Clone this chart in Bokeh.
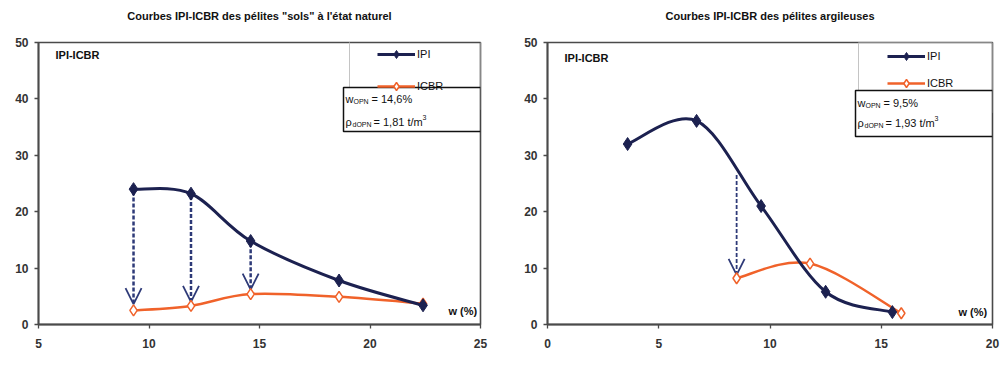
from bokeh.plotting import figure
from bokeh.layouts import row
from bokeh.models import (Range1d, FixedTicker, Legend, LegendItem, BoxAnnotation,
                          Label, Arrow, OpenHead, ColumnDataSource, Title)
from bokeh.embed import file_html
from bokeh.resources import INLINE

# ---------------- data ----------------
y_ticks = [0, 10, 20, 30, 40, 50]

left_title = 'Courbes IPI-ICBR des pélites "sols" à l\'état naturel'
left_x_ticks = [5, 10, 15, 20, 25]
left_ipi_w = [9.3, 11.9, 14.6, 18.6, 22.4]
left_ipi = [24.0, 23.2, 14.8, 7.8, 3.4]
left_icbr_w = [9.3, 11.9, 14.6, 18.6, 22.4]
left_icbr = [2.5, 3.3, 5.4, 4.9, 3.7]
left_arrow_w = [9.3, 11.9, 14.6]
left_arrow_from = [23.6, 22.8, 14.4]
left_arrow_to = [3.6, 4.0, 6.2]
left_w_opn = "14,6%"
left_rho_opn = "1,81"

right_title = "Courbes IPI-ICBR des pélites argileuses"
right_x_ticks = [0, 5, 10, 15, 20]
right_ipi_w = [3.6, 6.7, 9.6, 12.5, 15.5]
right_ipi = [32.0, 36.1, 21.0, 5.8, 2.2]
right_icbr_w = [8.5, 11.8, 15.9]
right_icbr = [8.2, 10.8, 2.0]
right_arrow_w = [8.5]
right_arrow_from = [26.5]
right_arrow_to = [8.8]
right_w_opn = "9,5%"
right_rho_opn = "1,93"

series_names = ["IPI", "ICBR"]

# ---------------- style ----------------
NAVY = "#1c2150"
ORANGE = "#f0622a"
ARROW = "#2e3a78"
FRAME = "#4a4a4a"
FONT = "Liberation Sans"


def smooth(xs, ys):
    """Bezier segments through the data points (Excel-like smoothed line)."""
    n = len(xs)
    d = dict(x0=[], y0=[], x1=[], y1=[], cx0=[], cy0=[], cx1=[], cy1=[])
    for i in range(n - 1):
        xp, yp = (xs[i - 1], ys[i - 1]) if i > 0 else (xs[i], ys[i])
        xn, yn = (xs[i + 2], ys[i + 2]) if i + 2 < n else (xs[i + 1], ys[i + 1])
        d["x0"].append(xs[i]); d["y0"].append(ys[i])
        d["x1"].append(xs[i + 1]); d["y1"].append(ys[i + 1])
        d["cx0"].append(xs[i] + (xs[i + 1] - xp) / 6.0)
        d["cy0"].append(ys[i] + (ys[i + 1] - yp) / 6.0)
        d["cx1"].append(xs[i + 1] - (xn - xs[i]) / 6.0)
        d["cy1"].append(ys[i + 1] - (yn - ys[i]) / 6.0)
    return ColumnDataSource(d)


def make_chart(title, width, b_left, b_right, b_bottom, x_ticks,
               ipi_w, ipi, icbr_w, icbr, aw, a_from, a_to, w_opn, rho_opn,
               leg_x, leg_top_gap, leg_spacing, legbox_left, ann_left, ann_top, ann_bottom,
               ann_line1, ann_line2, wlab_x, wlab_y, arrow_w):
    height = 369
    fh = height - 42 - b_bottom
    fw = width - b_left - b_right
    p = figure(width=width, height=height, output_backend="svg", toolbar_location=None,
               title=None,
               x_range=Range1d(x_ticks[0], x_ticks[-1]), y_range=Range1d(y_ticks[0], y_ticks[-1]),
               min_border_left=b_left, min_border_right=b_right, min_border_top=42,
               min_border_bottom=b_bottom)
    # spacer between frame and title, then the title itself
    p.add_layout(Title(text=" ", text_font_size="11px", standoff=0), "above")
    p.add_layout(Title(text=title, align="center", text_font=FONT, text_font_size="11px",
                       text_font_style="bold", text_color="#111111", standoff=14), "above")
    p.xgrid.visible = False
    p.ygrid.visible = False
    p.outline_line_color = FRAME
    p.outline_line_width = 1.6
    p.background_fill_color = "white"
    p.border_fill_color = "white"
    for ax, ticks in ((p.xaxis[0], x_ticks), (p.yaxis[0], y_ticks)):
        ax.ticker = FixedTicker(ticks=ticks)
        ax.minor_tick_line_color = None
        ax.major_tick_in = 0
        ax.major_tick_out = 4
        ax.major_tick_line_color = FRAME
        ax.major_tick_line_width = 1.3
        ax.axis_line_color = FRAME
        ax.axis_line_width = 1.8
        ax.major_label_text_font = FONT
        ax.major_label_text_font_size = "12px"
        ax.major_label_text_font_style = "bold"
        ax.major_label_text_color = "#333333"
    p.xaxis[0].major_label_standoff = 10
    p.yaxis[0].major_label_standoff = 6

    # arrows IPI -> ICBR
    asrc = ColumnDataSource(dict(x=aw, y0=a_from, y1=a_to))
    p.add_layout(Arrow(end=OpenHead(size=16, line_color=ARROW, line_width=1.8),
                       x_start="x", y_start="y0", x_end="x", y_end="y1", source=asrc,
                       line_color=ARROW, line_width=arrow_w, line_dash="4 2", level="underlay"))

    # ICBR
    icbr_line = p.bezier(x0="x0", y0="y0", x1="x1", y1="y1", cx0="cx0", cy0="cy0",
                         cx1="cx1", cy1="cy1", source=smooth(icbr_w, icbr),
                         line_color=ORANGE, line_width=2.5)
    icbr_pts = p.scatter(icbr_w, icbr, marker="diamond", size=11, fill_color="white",
                         line_color=ORANGE, line_width=1.5)
    # IPI
    ipi_line = p.bezier(x0="x0", y0="y0", x1="x1", y1="y1", cx0="cx0", cy0="cy0",
                        cx1="cx1", cy1="cy1", source=smooth(ipi_w, ipi),
                        line_color=NAVY, line_width=3)
    ipi_pts = p.scatter(ipi_w, ipi, marker="diamond", size=13, fill_color=NAVY,
                        line_color=NAVY, line_width=1)

    # legend frame
    p.add_layout(BoxAnnotation(left=legbox_left, right=fw, top=fh, bottom=fh - 70,
                               left_units="screen", right_units="screen",
                               top_units="screen", bottom_units="screen",
                               line_color="#c4c4c4", line_alpha=1, line_width=1, fill_alpha=0,
                               level="annotation"))
    leg_h = 2 * 20 + leg_spacing
    legend = Legend(items=[LegendItem(label=series_names[0], renderers=[ipi_line, ipi_pts]),
                           LegendItem(label=series_names[1], renderers=[icbr_line, icbr_pts])],
                    location=(leg_x, fh - leg_top_gap - leg_h),
                    orientation="vertical", padding=0, margin=0, spacing=leg_spacing,
                    glyph_width=38, glyph_height=20, label_height=20, label_standoff=2,
                    label_text_font=FONT, label_text_font_size="11px", label_text_color="#111111",
                    border_line_color=None, background_fill_alpha=0)
    p.add_layout(legend)

    # OPN box
    p.add_layout(BoxAnnotation(left=ann_left, right=fw, top=ann_top, bottom=ann_bottom,
                               left_units="screen", right_units="screen",
                               top_units="screen", bottom_units="screen",
                               line_color="#111111", line_alpha=1, line_width=1.5,
                               fill_color="white", fill_alpha=1, level="annotation"))

    def lab(x, y, text, size="11px", style="normal", align="left"):
        p.add_layout(Label(x=x, y=y, x_units="screen", y_units="screen", text=text,
                           text_font=FONT, text_font_size=size, text_font_style=style,
                           text_color="#111111", text_baseline="middle", text_align=align))

    bx = ann_left + 2
    lab(bx, ann_line1, "w")
    lab(bx + 8, ann_line1 - 3, "OPN", size="7px")
    lab(bx + 26, ann_line1, "= " + w_opn)
    lab(bx, ann_line2, "ρ")
    lab(bx + 7, ann_line2 - 3, "dOPN", size="7px")
    lab(bx + 28, ann_line2, "= " + rho_opn + " t/m")
    lab(bx + 77, ann_line2 + 4, "3", size="7px")

    lab(17, fh - 15, "IPI-ICBR", style="bold")
    lab(wlab_x, wlab_y, "w (%)", style="bold")
    return p


p_left = make_chart(left_title, 500, 38, 20, 42, left_x_ticks,
                    left_ipi_w, left_ipi, left_icbr_w, left_icbr,
                    left_arrow_w, left_arrow_from, left_arrow_to, left_w_opn, left_rho_opn,
                    leg_x=339, leg_top_gap=5, leg_spacing=12, legbox_left=311,
                    ann_left=305, ann_top=237, ann_bottom=193, ann_line1=226, ann_line2=203,
                    wlab_x=410, wlab_y=14, arrow_w=2.5)
p_right = make_chart(right_title, 507, 47, 15, 45, right_x_ticks,
                     right_ipi_w, right_ipi, right_icbr_w, right_icbr,
                     right_arrow_w, right_arrow_from, right_arrow_to, right_w_opn, right_rho_opn,
                     leg_x=340, leg_top_gap=4, leg_spacing=7, legbox_left=311,
                     ann_left=308, ann_top=234, ann_bottom=188, ann_line1=222, ann_line2=202,
                     wlab_x=411, wlab_y=13, arrow_w=1.8)

layout = row(p_left, p_right, spacing=0)
open("out.html", "w").write(file_html(layout, INLINE))
